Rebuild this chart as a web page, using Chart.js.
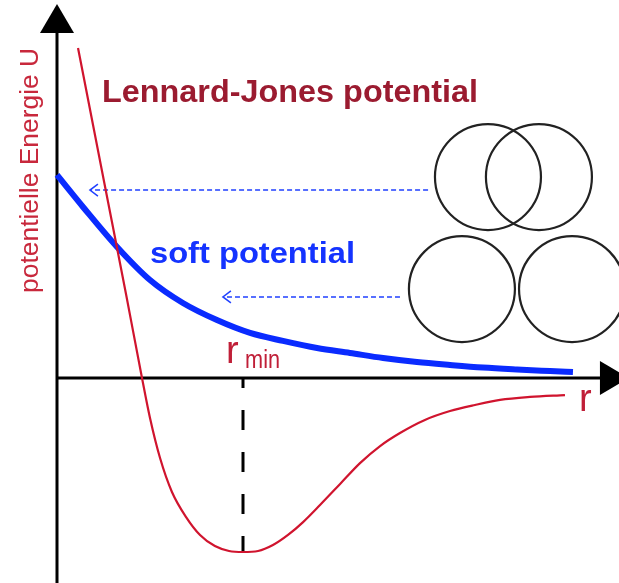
<!DOCTYPE html>
<html><head><meta charset="utf-8">
<script src="https://cdn.jsdelivr.net/npm/chart.js@4"></script>
<style>html,body{margin:0;padding:0;background:#fff}#wrap{width:619px;height:583px;position:relative}</style>
</head><body><div id="wrap"><canvas id="c"></canvas></div>
<script>
// Lennard-Jones potential (r in units of r_min, U in units of epsilon)
const ljR = [0.113, 0.199, 0.285, 0.371, 0.457, 0.500, 0.554, 0.618, 0.694, 0.769, 0.849, 0.925, 1.000, 1.081, 1.161, 1.242, 1.323, 1.414, 1.522, 1.629, 1.737, 1.844, 1.978, 2.113, 2.247, 2.382, 2.543, 2.731];
const ljU = [1.897, 1.425, 0.954, 0.483, 0.000, -0.230, -0.460, -0.655, -0.799, -0.902, -0.966, -0.994, -1.000, -0.994, -0.960, -0.902, -0.828, -0.730, -0.609, -0.489, -0.391, -0.316, -0.241, -0.190, -0.155, -0.126, -0.109, -0.098];
// soft potential
const softR = [0.000, 0.140, 0.323, 0.500, 0.677, 0.860, 1.038, 1.215, 1.398, 1.575, 1.753, 1.935, 2.113, 2.290, 2.473, 2.651, 2.774];
const softU = [1.167, 0.983, 0.753, 0.563, 0.431, 0.333, 0.259, 0.213, 0.172, 0.144, 0.115, 0.092, 0.075, 0.060, 0.049, 0.040, 0.034];
// minimum position marker
const rMin = [1.0];
const uMin = [-1.0];
// particle sketches (circle centres)
const circleR = [2.317, 2.591, 2.177, 2.769];
const circleU = [1.155, 1.155, 0.511, 0.511];
// dashed pointer arrows
const arrowFromR = [1.995, 1.844];
const arrowToR = [0.177, 0.892];
const arrowU = [1.080, 0.466];
// axis extents
const axisTipR = [3.075];
const axisTipU = [2.149];
// texts
const titleLJ = "Lennard-Jones potential";
const titleSoft = "soft potential";
const yTitle = "potentielle Energie U";
const xTitle = "r";
const rMinMain = "r";
const rMinSub = "min";

const zip = (a, b) => a.map((v, i) => ({x: v, y: b[i]}));

function fitText(ctx, text, x, y, font, color, targetW) {
  ctx.save();
  ctx.font = font;
  ctx.fillStyle = color;
  ctx.textBaseline = 'alphabetic';
  ctx.textAlign = 'left';
  const w = ctx.measureText(text).width;
  const s = targetW ? targetW / w : 1;
  ctx.translate(x, y);
  ctx.scale(s, 1);
  ctx.fillText(text, 0, 0);
  ctx.restore();
}

const decor = {
  id: 'decor',
  beforeDatasetsDraw(chart) {
    const ctx = chart.ctx, xs = chart.scales.x, ys = chart.scales.y;
    const px0 = xs.getPixelForValue(0), py0 = ys.getPixelForValue(0);
    const yTip = ys.getPixelForValue(axisTipU[0]);
    const xTip = xs.getPixelForValue(axisTipR[0]);
    const aLen = 29, aHalf = 17;
    ctx.save();
    ctx.strokeStyle = '#000'; ctx.fillStyle = '#000'; ctx.lineWidth = 3;
    ctx.beginPath();
    ctx.moveTo(px0, chart.height); ctx.lineTo(px0, yTip + aLen - 1);
    ctx.moveTo(px0 - 1.5, py0); ctx.lineTo(xTip - aLen + 1, py0);
    ctx.stroke();
    ctx.beginPath();
    ctx.moveTo(px0, yTip); ctx.lineTo(px0 - aHalf, yTip + aLen); ctx.lineTo(px0 + aHalf, yTip + aLen); ctx.closePath();
    ctx.fill();
    ctx.beginPath();
    ctx.moveTo(xTip, py0); ctx.lineTo(xTip - aLen, py0 - aHalf); ctx.lineTo(xTip - aLen, py0 + aHalf); ctx.closePath();
    ctx.fill();
    // dashed blue pointer arrows
    ctx.strokeStyle = '#2040ff'; ctx.lineWidth = 1.5;
    for (let i = 0; i < arrowU.length; i++) {
      const x1 = xs.getPixelForValue(arrowFromR[i]), x2 = xs.getPixelForValue(arrowToR[i]);
      const yy = ys.getPixelForValue(arrowU[i]);
      ctx.setLineDash([5, 3]);
      ctx.beginPath(); ctx.moveTo(x1, yy); ctx.lineTo(x2 + 1, yy); ctx.stroke();
      ctx.setLineDash([]);
      ctx.beginPath(); ctx.moveTo(x2 + 8, yy - 6); ctx.lineTo(x2, yy); ctx.lineTo(x2 + 8, yy + 6); ctx.stroke();
    }
    ctx.restore();
  },
  afterDatasetsDraw(chart) {
    const ctx = chart.ctx, xs = chart.scales.x, ys = chart.scales.y;
    const P = (r, u) => [xs.getPixelForValue(r), ys.getPixelForValue(u)];
    let p = P(0.242, 1.586);
    fitText(ctx, titleLJ, p[0], p[1], 'bold 32px "Liberation Sans", Arial, sans-serif', '#9b1b30', 376);
    p = P(0.500, 0.661);
    fitText(ctx, titleSoft, p[0], p[1], 'bold 30px "Liberation Sans", Arial, sans-serif', '#1433ff', 205);
    // y axis title, rotated
    p = P(-0.102, 0.489);
    ctx.save();
    ctx.translate(p[0], p[1]);
    ctx.rotate(-Math.PI / 2);
    fitText(ctx, yTitle, 0, 0, '26px "Liberation Sans", Arial, sans-serif', '#c8283c', 245);
    ctx.restore();
    // r_min label
    p = P(0.909, 0.086);
    fitText(ctx, rMinMain, p[0], p[1], '38px "Liberation Sans", Arial, sans-serif', '#c01f38', 0);
    p = P(1.011, 0.057);
    fitText(ctx, rMinSub, p[0], p[1], '26px "Liberation Sans", Arial, sans-serif', '#c01f38', 35);
    // r label
    p = P(2.806, -0.190);
    fitText(ctx, xTitle, p[0], p[1], '38px "Liberation Sans", Arial, sans-serif', '#c01f38', 0);
  }
};

new Chart(document.getElementById('c'), {
  type: 'line',
  data: {
    datasets: [
      { label: 'Lennard-Jones', data: zip(ljR, ljU), borderColor: '#d0142e', borderWidth: 2.2,
        pointRadius: 0, cubicInterpolationMode: 'monotone', fill: false, order: 1 },
      { label: 'soft', data: zip(softR, softU), borderColor: '#0a2bff', borderWidth: 6,
        pointRadius: 0, cubicInterpolationMode: 'monotone', fill: false, order: 2 },
      { label: 'rmin', data: [{x: rMin[0], y: 0}, {x: rMin[0], y: uMin[0]}], borderColor: '#000', borderWidth: 3,
        borderDash: [20, 22], borderDashOffset: 10, pointRadius: 0, fill: false, order: 3 },
      { label: 'particles', data: zip(circleR, circleU), showLine: false, pointStyle: 'circle',
        pointRadius: 53, pointBorderWidth: 2.2, pointBorderColor: '#222', pointBackgroundColor: 'rgba(0,0,0,0)',
        clip: false, order: 4 }
    ]
  },
  options: {
    responsive: true, maintainAspectRatio: false, animation: false, events: [],
    layout: { padding: 0, autoPadding: false },
    plugins: { legend: { display: false }, tooltip: { enabled: false } },
    scales: {
      x: { type: 'linear', min: -57 / 186, max: 562 / 186, display: false },
      y: { type: 'linear', min: -205 / 174, max: 378 / 174, display: false }
    }
  },
  plugins: [decor]
});
</script>
</body></html>
